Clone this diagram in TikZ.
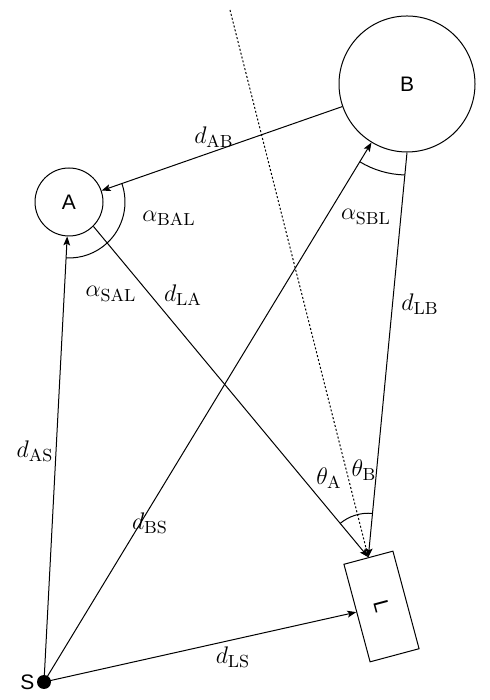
\documentclass[tikz,border=0pt]{standalone}
\usepackage{fontspec}
\newfontfamily\labfont{Liberation Sans}
\usetikzlibrary{arrows.meta}
\begin{document}
\begin{tikzpicture}[x=0.5pt,y=0.5pt,
  every node/.style={font=\fontsize{12.5}{15}\selectfont},
  obj/.style={draw, line width=0.5pt, circle, inner sep=0pt, font=\labfont\fontsize{10.5}{12}\selectfont},
  con/.style={line width=0.5pt, -{Stealth[length=4.5pt,width=3.4pt,inset=1pt]}},
  ang/.style={line width=0.5pt},
  dots/.style={line width=0.5pt, dash pattern=on 1pt off 1pt}]
\useasboundingbox (0,0) rectangle (490,700);
% objects
\node[obj, minimum size=34pt] (A) at (69,498) {A};
\node[obj, minimum size=68pt] (B) at (407,616) {B};
\node[draw, line width=0.5pt, rectangle, rotate=-75, minimum width=50.5pt, minimum height=25.35pt, inner sep=0pt, font=\labfont\fontsize{10.5}{12}\selectfont] (L) at (381.5,93.5) {L};
\node[circle, fill, inner sep=0pt, minimum size=7pt] (S) at (44,18) {};
\node[font=\labfont\fontsize{10.5}{12}\selectfont] (Slab) at (27.5,18) {S};
\coordinate (top) at (230,690);
% connectors
\draw[con] (B) -- (A);
\draw[con] (S.center) -- (A);
\draw[con] (S.center) -- (B);
\draw[con] (S.center) -- (L);
\draw[con] (A.south east) -- (L.west);
\draw[con] (B.south) -- (L.west);
\draw[dots] (top) -- (L.west);
% angle arcs
\draw[ang] (A.center) ++(19.2:28pt) arc[start angle=19.2, end angle=-47, radius=28pt];
\draw[ang] (A.center) ++(-47:28pt) arc[start angle=-47, end angle=-93, radius=28pt];
\draw[ang] (B.center) ++(-121.3:45.5pt) arc[start angle=-121.3, end angle=-91.4, radius=45.5pt];
\draw[ang] (L.west) ++(84.6:22pt) arc[start angle=84.6, end angle=129.7, radius=22pt];
% labels
\node (lAB) at (214,563) {$d_{\mathrm{AB}}$};
\node (lBAL) at (169,482) {$\alpha_{\mathrm{BAL}}$};
\node (lSAL) at (111,406) {$\alpha_{\mathrm{SAL}}$};
\node (lLA) at (183,405) {$d_{\mathrm{LA}}$};
\node (lSBL) at (366,483) {$\alpha_{\mathrm{SBL}}$};
\node (lLB) at (420,396) {$d_{\mathrm{LB}}$};
\node (lAS) at (35,249) {$d_{\mathrm{AS}}$};
\node (lBS) at (150,177) {$d_{\mathrm{BS}}$};
\node (ltA) at (329,222) {$\theta_{\mathrm{A}}$};
\node (ltB) at (364,230) {$\theta_{\mathrm{B}}$};
\node (lLS) at (233,43) {$d_{\mathrm{LS}}$};
\end{tikzpicture}
\end{document}
